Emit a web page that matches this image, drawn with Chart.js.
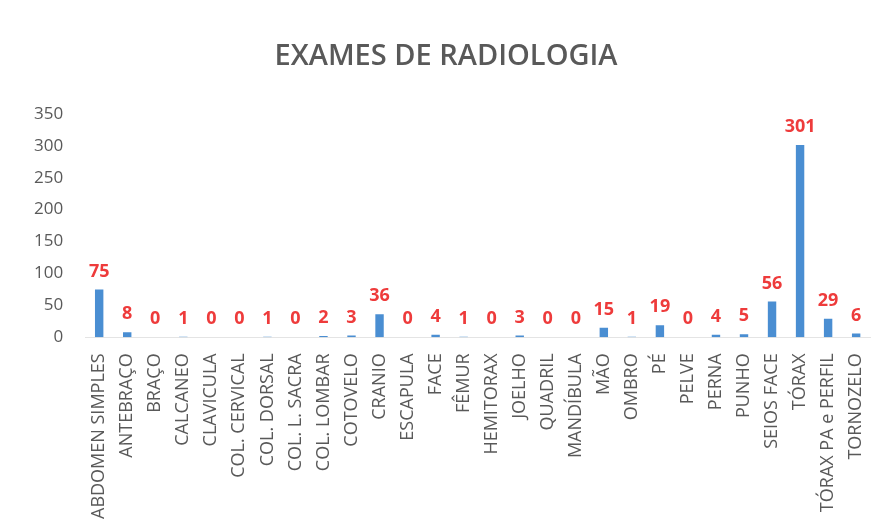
<!DOCTYPE html>
<html>
<head>
<meta charset="utf-8">
<title>Exames de Radiologia</title>
<script src="https://cdn.jsdelivr.net/npm/chart.js@4/dist/chart.umd.min.js"></script>
<style>
  html, body { margin: 0; padding: 0; background: #ffffff; }
  #wrap { width: 886px; height: 532px; position: relative; }
</style>
</head>
<body>
<div id="wrap"><canvas id="chart"></canvas></div>
<script>
'use strict';

var categories = ["ABDOMEN SIMPLES", "ANTEBRAÇO", "BRAÇO", "CALCANEO", "CLAVICULA",
  "COL. CERVICAL", "COL. DORSAL", "COL. L. SACRA", "COL. LOMBAR", "COTOVELO",
  "CRANIO", "ESCAPULA", "FACE", "FÊMUR", "HEMITORAX", "JOELHO", "QUADRIL",
  "MANDÍBULA", "MÃO", "OMBRO", "PÉ", "PELVE", "PERNA", "PUNHO", "SEIOS FACE",
  "TÓRAX", "TÓRAX PA e PERFIL", "TORNOZELO"];
var exames = [75, 8, 0, 1, 0, 0, 1, 0, 2, 3, 36, 0, 4, 1, 0, 3, 0, 0, 15, 1, 19, 0, 4, 5, 56, 301, 29, 6];
var yTicks = [0, 50, 100, 150, 200, 250, 300, 350];

var grey = "#595959";
var red = "#ee3b3b";

// red numbers above each bar
var valueLabels = {
  id: 'valueLabels',
  afterDatasetsDraw: function(chart) {
    var ctx = chart.ctx;
    var meta = chart.getDatasetMeta(0);
    ctx.save();
    ctx.fillStyle = red;
    ctx.font = "bold 18px 'Open Sans', sans-serif";
    ctx.textAlign = "center";
    ctx.textBaseline = "bottom";
    meta.data.forEach(function(bar, i) {
      ctx.fillText(String(exames[i]), bar.x, bar.y - 9);
    });
    ctx.restore();
  }
};

new Chart(document.getElementById('chart'), {
  type: 'bar',
  data: {
    labels: categories,
    datasets: [{
      label: 'Exames',
      data: exames,
      backgroundColor: "#4a8ed2",
      barPercentage: 0.3,
      categoryPercentage: 1.0
    }]
  },
  options: {
    responsive: true,
    maintainAspectRatio: false,
    animation: false,
    layout: { padding: { left: 20, right: 14, top: 0, bottom: 5 } },
    plugins: {
      legend: { display: false },
      tooltip: { enabled: false },
      title: {
        display: true,
        text: 'EXAMES DE RADIOLOGIA',
        color: grey,
        font: { family: "'Open Sans', sans-serif", size: 29, weight: '600' },
        padding: { top: 39, bottom: 40 }
      }
    },
    scales: {
      x: {
        grid: { display: false },
        border: { display: true, color: "#e4e4e4" },
        ticks: {
          color: grey,
          autoSkip: false,
          minRotation: 90,
          maxRotation: 90,
          padding: 8,
          font: { family: "'Open Sans', sans-serif", size: 18 }
        }
      },
      y: {
        min: 0,
        max: 350,
        grid: { display: false },
        border: { display: false },
        afterBuildTicks: function(axis) {
          axis.ticks = yTicks.map(function(v) { return { value: v }; });
        },
        ticks: {
          color: grey,
          padding: 14,
          font: { family: "'Open Sans', sans-serif", size: 17 }
        }
      }
    }
  },
  plugins: [valueLabels]
});
</script>
</body>
</html>
